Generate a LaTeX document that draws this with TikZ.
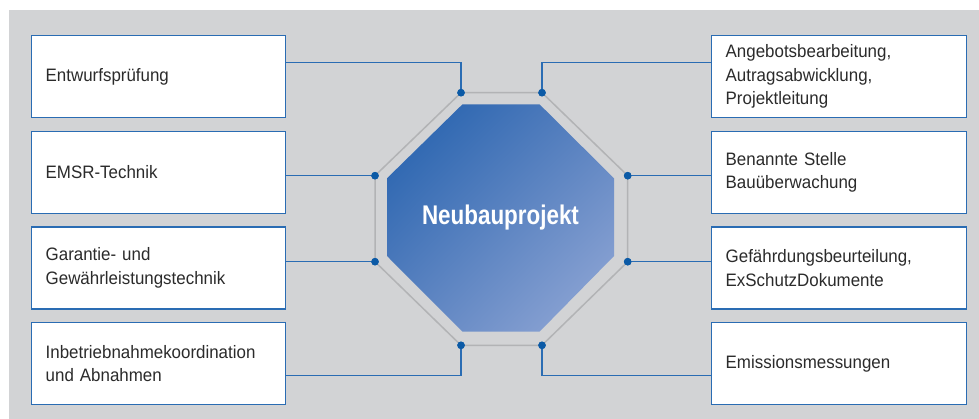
\documentclass[tikz,border=0pt]{standalone}
\usepackage{fontspec}
\setmainfont{Liberation Sans}[FakeStretch=0.94]
\newfontfamily\titlefont{Liberation Sans}[FakeStretch=0.83]
\usetikzlibrary{calc,shadings}
\definecolor{bg}{HTML}{D2D3D5}
\definecolor{boxblue}{HTML}{2A6CB3}
\definecolor{dotblue}{HTML}{0B5AA6}
\definecolor{octgray}{HTML}{B2B3B5}
\definecolor{txt}{HTML}{2B2B2B}
\definecolor{gA}{HTML}{1F5EAC}
\definecolor{gM}{HTML}{5A82C0}
\definecolor{gB}{HTML}{97ABD8}
\tikzset{
  infobox/.style={draw=boxblue, line width=1.4pt, fill=white, anchor=north west,
    minimum height=82pt, inner xsep=14pt, inner ysep=0pt, align=left,
    text=txt, font=\fontsize{18}{23.5}\selectfont},
  lbox/.style={infobox, minimum width=254pt, text width=226pt},
  rbox/.style={infobox, minimum width=255pt, text width=227pt},
  conn/.style={draw=boxblue, line width=1.4pt},
  dotnode/.style={circle, fill=dotblue, inner sep=0pt, minimum size=7.5pt},
}
\begin{document}
\begin{tikzpicture}[x=1pt, y=-1pt]
\useasboundingbox (0,0) rectangle (979,419);
\fill[bg] (9,10) rectangle (979,419);

% outer octagon
\draw[octgray, line width=1.5pt] (461,92.7) -- (542,92.7) -- (627.7,175.7) -- (627.7,261.7)
  -- (542,345.3) -- (461,345.3) -- (375,261.7) -- (375,175.7) -- cycle;
% inner octagon
\shade[upper left=gA, lower right=gB, upper right=gM, lower left=gM]
  (462.5,104.3) -- (539.5,104.3) -- (614,178.3) -- (614,256) -- (539.5,331.7)
  -- (462.5,331.7) -- (387,256) -- (387,178.3) -- cycle;
\node[anchor=base, text=white, font=\titlefont\bfseries\fontsize{27}{30}\selectfont] (title) at (500.5,225) {Neubauprojekt};

% boxes
\node[lbox] (L1) at (31,35) {Entwurfsprüfung};
\node[lbox] (L2) at (31,130.7) {EMSR-Technik};
\node[lbox] (L3) at (31,226.3) {Garantie- und\\Gewährleistungstechnik};
\node[lbox] (L4) at (31,322) {Inbetriebnahmekoordination\\und Abnahmen};
\node[rbox] (R1) at (711,35) {Angebotsbearbeitung,\\Autragsabwicklung,\\Projektleitung};
\node[rbox] (R2) at (711,130.7) {Benannte Stelle\\Bauüberwachung};
\node[rbox] (R3) at (711,226.3) {Gefährdungsbeurteilung,\\ExSchutzDokumente};
\node[rbox] (R4) at (711,322) {Emissionsmessungen};

% dots
\node[dotnode] (d1) at (461,92.7) {};
\node[dotnode] (d2) at (542,92.7) {};
\node[dotnode] (d3) at (627.7,175.7) {};
\node[dotnode] (d4) at (627.7,261.7) {};
\node[dotnode] (d5) at (542,345.3) {};
\node[dotnode] (d6) at (461,345.3) {};
\node[dotnode] (d7) at (375,261.7) {};
\node[dotnode] (d8) at (375,175.7) {};

\coordinate (ytop) at (0,62.7);
\coordinate (ybot) at (0,375.7);

% connectors
\draw[conn] (L1.east |- ytop) -| (d1.center);
\draw[conn] (R1.west |- ytop) -| (d2.center);
\draw[conn] (L2.east |- d8) -- (d8.center);
\draw[conn] (L3.east |- d7) -- (d7.center);
\draw[conn] (R2.west |- d3) -- (d3.center);
\draw[conn] (R3.west |- d4) -- (d4.center);
\draw[conn] (L4.east |- ybot) -| (d6.center);
\draw[conn] (R4.west |- ybot) -| (d5.center);

% redraw dots on top
\foreach \d in {d1,d2,d3,d4,d5,d6,d7,d8} \fill[dotblue] (\d) circle (3.75pt);
\end{tikzpicture}
\end{document}
